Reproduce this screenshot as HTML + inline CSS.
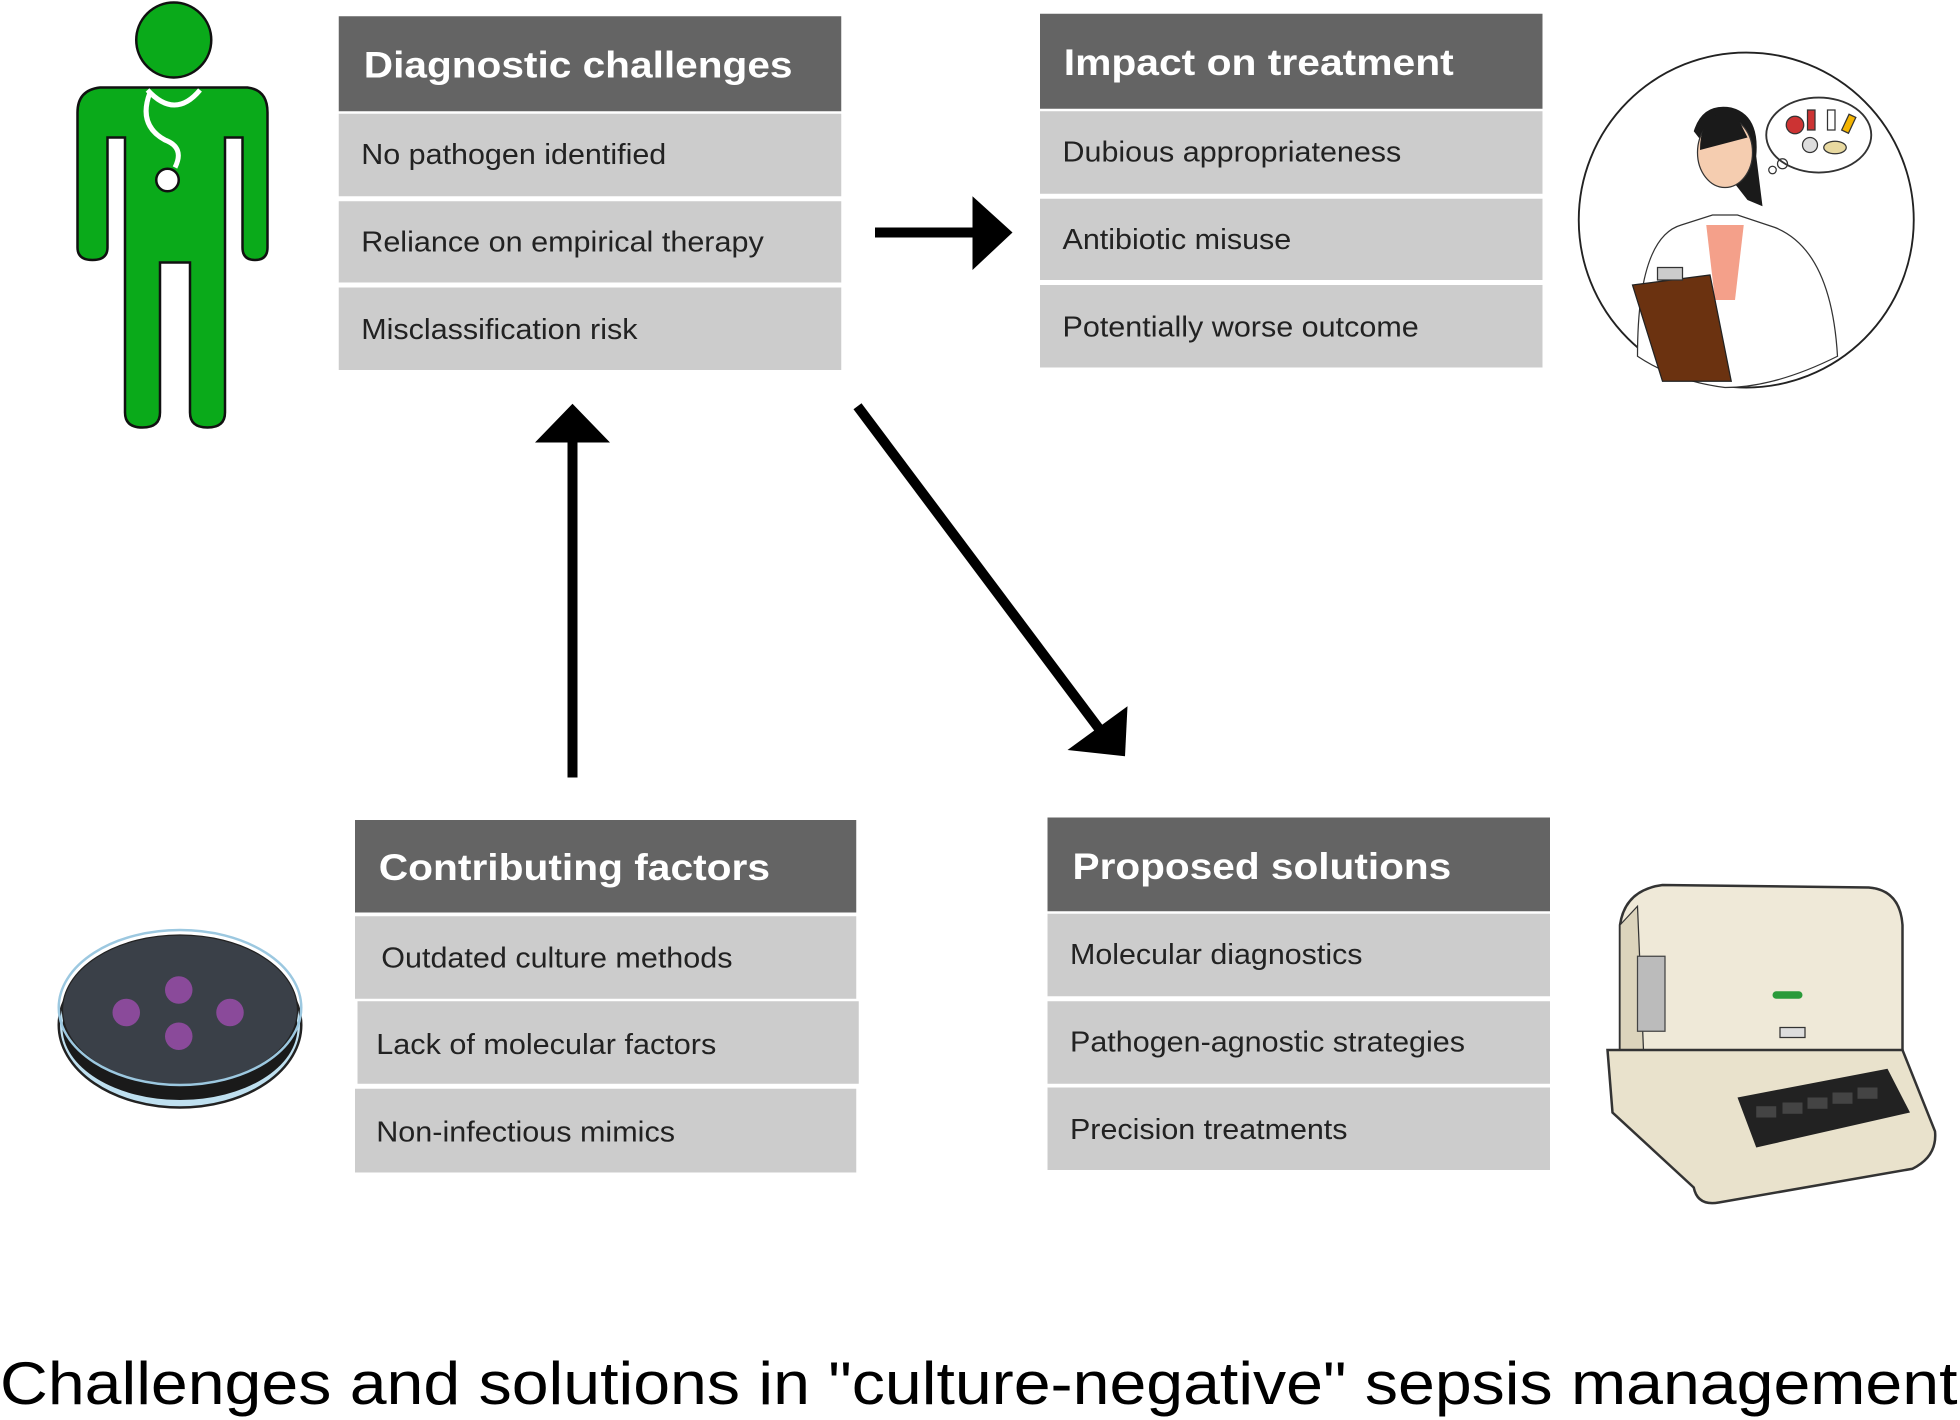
<!DOCTYPE html>
<html><head><meta charset="utf-8"><style>
html,body{margin:0;padding:0;background:#fff;width:1960px;height:1420px;overflow:hidden}
svg{display:block}
.h{font-family:"Liberation Sans",sans-serif;font-weight:bold;font-size:30px;fill:#fff}
.r{font-family:"Liberation Sans",sans-serif;font-size:23px;fill:#222}
</style></head><body>
<svg width="1960" height="1420" viewBox="0 0 1568 1136" preserveAspectRatio="none" xmlns="http://www.w3.org/2000/svg">
<!-- Diagnostic -->
<rect x="271" y="13" width="402" height="76" fill="#646464"/>
<text class="h" x="291" y="62" textLength="343" lengthAdjust="spacingAndGlyphs">Diagnostic challenges</text>
<rect x="271" y="91" width="402" height="66" fill="#cccccc"/>
<text class="r" x="289" y="131" textLength="244" lengthAdjust="spacingAndGlyphs">No pathogen identified</text>
<rect x="271" y="161" width="402" height="65" fill="#cccccc"/>
<text class="r" x="289" y="201" textLength="322" lengthAdjust="spacingAndGlyphs">Reliance on empirical therapy</text>
<rect x="271" y="230" width="402" height="66" fill="#cccccc"/>
<text class="r" x="289" y="271" textLength="221" lengthAdjust="spacingAndGlyphs">Misclassification risk</text>
<!-- Impact -->
<rect x="832" y="11" width="402" height="76" fill="#646464"/>
<text class="h" x="851" y="60" textLength="312" lengthAdjust="spacingAndGlyphs">Impact on treatment</text>
<rect x="832" y="89" width="402" height="66" fill="#cccccc"/>
<text class="r" x="850" y="129" textLength="271" lengthAdjust="spacingAndGlyphs">Dubious appropriateness</text>
<rect x="832" y="159" width="402" height="65" fill="#cccccc"/>
<text class="r" x="850" y="199" textLength="183" lengthAdjust="spacingAndGlyphs">Antibiotic misuse</text>
<rect x="832" y="228" width="402" height="66" fill="#cccccc"/>
<text class="r" x="850" y="269" textLength="285" lengthAdjust="spacingAndGlyphs">Potentially worse outcome</text>
<!-- Contributing -->
<rect x="284" y="656" width="401" height="74" fill="#646464"/>
<text class="h" x="303" y="704" textLength="313" lengthAdjust="spacingAndGlyphs">Contributing factors</text>
<rect x="284" y="733" width="401" height="66" fill="#cccccc"/>
<text class="r" x="305" y="774" textLength="281" lengthAdjust="spacingAndGlyphs">Outdated culture methods</text>
<rect x="286" y="801" width="401" height="66" fill="#cccccc"/>
<text class="r" x="301" y="843" textLength="272" lengthAdjust="spacingAndGlyphs">Lack of molecular factors</text>
<rect x="284" y="871" width="401" height="67" fill="#cccccc"/>
<text class="r" x="301" y="913" textLength="239" lengthAdjust="spacingAndGlyphs">Non-infectious mimics</text>
<!-- Proposed -->
<rect x="838" y="654" width="402" height="75" fill="#646464"/>
<text class="h" x="858" y="703" textLength="303" lengthAdjust="spacingAndGlyphs">Proposed solutions</text>
<rect x="838" y="731" width="402" height="66" fill="#cccccc"/>
<text class="r" x="856" y="771" textLength="234" lengthAdjust="spacingAndGlyphs">Molecular diagnostics</text>
<rect x="838" y="801" width="402" height="66" fill="#cccccc"/>
<text class="r" x="856" y="841" textLength="316" lengthAdjust="spacingAndGlyphs">Pathogen-agnostic strategies</text>
<rect x="838" y="870" width="402" height="66" fill="#cccccc"/>
<text class="r" x="856" y="911" textLength="222" lengthAdjust="spacingAndGlyphs">Precision treatments</text>
<!-- arrows -->
<line x1="700" y1="186" x2="782" y2="186" stroke="#000" stroke-width="8"/>
<polygon points="778,157 810,186 778,216" fill="#000"/>
<line x1="458" y1="622" x2="458" y2="350" stroke="#000" stroke-width="8"/>
<polygon points="428,354 458,323 488,354" fill="#000"/>
<line x1="686" y1="325" x2="880" y2="584" stroke="#000" stroke-width="8"/>
<polygon points="854,600 900,605 902,565" fill="#000"/>
<!-- green person -->
<g fill="#0aaa1a" stroke="#111" stroke-width="2">
<circle cx="139" cy="32" r="30"/>
<path d="M80,70 H198 Q214,72 214,90 V198 Q214,208 204,208 Q194,208 194,198 V110 H180 V330 Q180,342 166,342 Q152,342 152,330 V210 H128 V330 Q128,342 114,342 Q100,342 100,330 V110 H86 V198 Q86,208 74,208 Q62,208 62,198 V90 Q62,72 80,70 Z"/>
</g>
<path d="M118,72 Q140,96 160,72 M120,74 Q110,100 132,112 Q148,118 140,134" fill="none" stroke="#fff" stroke-width="4"/>
<circle cx="134" cy="144" r="9" fill="#fff" stroke="#111" stroke-width="2"/>
<!-- doctor circle -->
<circle cx="1397" cy="176" r="134" fill="#fff" stroke="#222" stroke-width="1.5"/>
<ellipse cx="1455" cy="108" rx="42" ry="30" fill="#fff" stroke="#333" stroke-width="1.5"/>
<circle cx="1436" cy="100" r="7" fill="#c33" stroke="#333"/><rect x="1446" y="88" width="6" height="16" fill="#c33" stroke="#333"/>
<rect x="1462" y="88" width="6" height="16" fill="#fff" stroke="#333"/><rect x="1476" y="92" width="6" height="14" fill="#f4b400" stroke="#333" transform="rotate(25 1479 99)"/>
<circle cx="1448" cy="116" r="6" fill="#ddd" stroke="#333"/><ellipse cx="1468" cy="118" rx="9" ry="5" fill="#e8d9a0" stroke="#333"/>
<circle cx="1418" cy="136" r="3" fill="none" stroke="#333"/><circle cx="1426" cy="131" r="4" fill="none" stroke="#333"/>
<path d="M1355,105 Q1362,82 1385,86 Q1408,92 1405,125 L1410,165 L1398,160 Z" fill="#1a1a1a"/>
<ellipse cx="1380" cy="122" rx="22" ry="28" fill="#f5cdb0" stroke="#333"/>
<path d="M1360,120 Q1360,88 1388,90 L1398,110 Z" fill="#1a1a1a"/>
<path d="M1310,285 Q1310,190 1345,180 L1370,172 L1390,172 L1420,182 Q1465,200 1470,285 Q1420,310 1380,310 Q1340,305 1310,285 Z" fill="#fff" stroke="#333"/>
<path d="M1365,180 L1395,180 L1388,240 L1372,240 Z" fill="#f4a08a"/>
<path d="M1306,228 L1368,220 L1385,305 L1330,305 Z" fill="#6b3210" stroke="#222"/>
<rect x="1326" y="214" width="20" height="10" fill="#ccc" stroke="#333"/>
<!-- petri dish -->
<ellipse cx="144" cy="820" rx="97" ry="66" fill="#bfe0f0" stroke="#222" stroke-width="2"/>
<ellipse cx="144" cy="822" rx="94" ry="58" fill="#1a1a1a"/>
<ellipse cx="144" cy="808" rx="94" ry="60" fill="#3a4048" stroke="#222"/>
<ellipse cx="144" cy="806" rx="97" ry="62" fill="none" stroke="#9cc8e0" stroke-width="2"/>
<g fill="#8a4a9a"><circle cx="143" cy="792" r="11"/><circle cx="101" cy="810" r="11"/><circle cx="184" cy="810" r="11"/><circle cx="143" cy="829" r="11"/></g>
<!-- PCR machine -->
<path d="M1296,740 Q1300,712 1330,708 L1495,710 Q1520,712 1522,740 L1522,855 L1296,855 Z" fill="#efe9d8" stroke="#333" stroke-width="2"/>
<path d="M1296,740 L1310,725 L1315,845 L1296,855 Z" fill="#dcd4bc" stroke="#333"/>
<rect x="1310" y="765" width="22" height="60" fill="#bbb" stroke="#444"/>
<path d="M1286,840 L1522,840 L1548,905 Q1550,925 1530,935 L1375,962 Q1358,965 1355,950 L1290,890 Z" fill="#e9e2cc" stroke="#333" stroke-width="2"/>
<path d="M1390,878 L1510,855 L1528,890 L1405,918 Z" fill="#222"/>
<g fill="#444"><rect x="1405" y="885" width="16" height="9"/><rect x="1426" y="882" width="16" height="9"/><rect x="1446" y="878" width="16" height="9"/><rect x="1466" y="874" width="16" height="9"/><rect x="1486" y="870" width="16" height="9"/></g>
<rect x="1418" y="793" width="24" height="6" rx="3" fill="#2a9a3a"/>
<rect x="1424" y="822" width="20" height="8" fill="#ddd" stroke="#333"/>
<!-- title -->
<text x="0" y="1123" font-family="Liberation Sans, sans-serif" font-size="48" fill="#000" textLength="1566" lengthAdjust="spacingAndGlyphs">Challenges and solutions in "culture-negative" sepsis management</text>
</svg>
</body></html>
